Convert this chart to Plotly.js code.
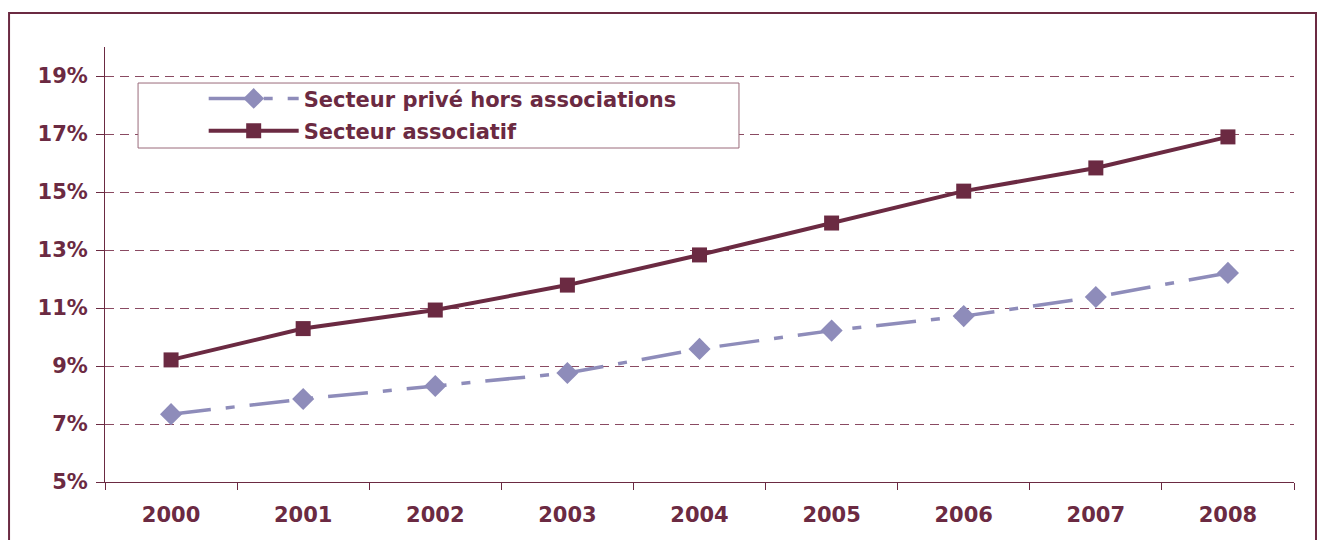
<!DOCTYPE html>
<html>
<head>
<meta charset="utf-8">
<script src="https://cdn.plot.ly/plotly-3.0.1.min.js"></script>
<style>html,body{margin:0;padding:0;background:#fff;}#chart{width:1317px;height:540px;}</style>
</head>
<body>
<div id="chart"></div>
<script>
const years = ["2000","2001","2002","2003","2004","2005","2006","2007","2008"];
const prive = [7.34, 7.86, 8.31, 8.76, 9.59, 10.22, 10.72, 11.38, 12.21];
const associatif = [9.21, 10.29, 10.93, 11.79, 12.83, 13.93, 15.03, 15.83, 16.9];
const yTicks = [5, 7, 9, 11, 13, 15, 17, 19];
const yTickLabels = ["5%", "7%", "9%", "11%", "13%", "15%", "17%", "19%"];

const MAROON = "#6b2a42";
const LAV = "#8e8cba";
const FONT = "DejaVu Sans, Liberation Sans, Arial, sans-serif";

const traces = [
  {
    x: years, y: prive, type: "scatter", mode: "lines+markers",
    name: "Secteur privé hors associations", legendgroup: "a",
    line: {color: LAV, width: 3.5, dash: "40px,15px,9px,15px"},
    marker: {symbol: "diamond", size: 17, color: LAV}
  },
  {
    x: years, y: associatif, type: "scatter", mode: "lines+markers",
    name: "Secteur associatif", legendgroup: "b",
    line: {color: MAROON, width: 4},
    marker: {symbol: "square", size: 15, color: MAROON}
  }
];

const layout = {
  width: 1317, height: 540,
  margin: {l: 105, r: 23, t: 47, b: 58},
  paper_bgcolor: "#fff", plot_bgcolor: "#fff",
  showlegend: true,
  font: {family: FONT, color: MAROON},
  xaxis: {
    type: "category", range: [-0.5, 8.5],
    tickson: "boundaries", ticks: "outside", ticklen: 7, tickcolor: MAROON, tickwidth: 1,
    ticklabelstandoff: 14,
    showline: true, linecolor: MAROON, linewidth: 1,
    showgrid: false, zeroline: false,
    tickfont: {family: FONT, size: 21, color: MAROON, weight: "bold"}
  },
  yaxis: {
    range: [5, 20], tickmode: "array", tickvals: yTicks, ticktext: yTickLabels,
    ticks: "outside", ticklen: 8, tickcolor: MAROON, tickwidth: 1,
    ticklabelstandoff: 4,
    showline: true, linecolor: MAROON, linewidth: 1,
    showgrid: true, gridcolor: "#8a4a62", gridwidth: 1, griddash: "9px,6px",
    zeroline: false,
    tickfont: {family: FONT, size: 21, color: MAROON, weight: "bold"}
  },
  legend: {
    x: 0.083, y: 0.928, xanchor: "left", yanchor: "top",
    bgcolor: "rgba(0,0,0,0)", borderwidth: 0,
    itemwidth: 90, traceorder: "grouped", tracegroupgap: 2,
    font: {family: FONT, size: 21, color: MAROON, weight: "bold"}
  },
  shapes: [
    {type: "rect", xref: "paper", yref: "paper", x0: 0.0278, x1: 0.5332, y0: 0.7678, y1: 0.9172,
     line: {color: "#9a6a7a", width: 1}, fillcolor: "#ffffff", layer: "above"},
    {type: "rect", xref: "paper", yref: "paper", x0: -0.0807, x1: 1.0185, y0: -0.145, y1: 1.078,
     line: {color: MAROON, width: 2}, fillcolor: "rgba(0,0,0,0)"}
  ]
};

Plotly.newPlot("chart", traces, layout, {displayModeBar: false, staticPlot: true});
</script>
</body>
</html>
